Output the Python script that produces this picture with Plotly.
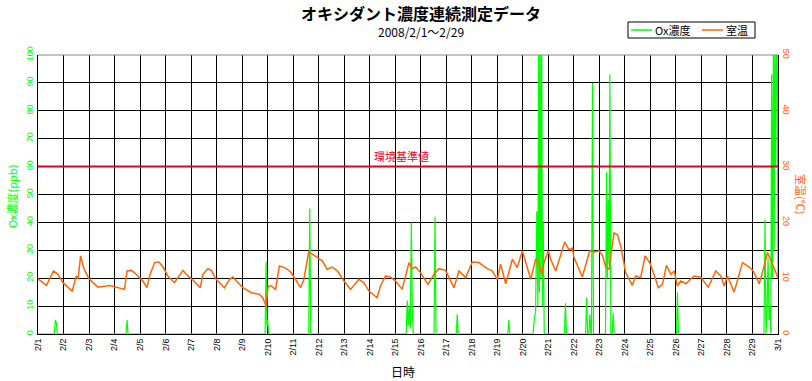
import plotly.graph_objects as go

# ---------------- data ----------------
day_labels = [f"2/{i}" for i in range(1, 30)] + ["3/1"]
day_ticks = list(range(0, 30))

# Ox concentration (ppb); x = days since 2/1 00:00
ox_day = [0.00,
          0.64, 0.68, 0.72, 0.76,
          3.45, 3.49, 3.53,
          8.90, 8.94, 8.97, 9.00, 9.04,
          10.61, 10.65, 10.69,
          14.43, 14.47, 14.51, 14.55, 14.59, 14.63, 14.67, 14.71,
          15.52, 15.56, 15.60,
          16.39, 16.43, 16.47,
          18.41, 18.45, 18.49,
          19.40, 19.46, 19.50, 19.55, 19.59, 19.62, 19.65, 19.68, 19.71, 19.74, 19.77, 19.80, 19.84,
          20.63, 20.67, 20.71,
          21.46, 21.50, 21.54, 21.59, 21.63, 21.67, 21.69, 21.73, 21.77,
          22.24, 22.28, 22.31, 22.35, 22.38, 22.41, 22.45, 22.50, 22.54, 22.58,
          25.02, 25.06, 25.10,
          28.45, 28.49, 28.53, 28.57, 28.61, 28.65, 28.68, 28.72, 28.75, 28.78, 28.82, 28.85, 28.88,
          28.91, 28.94, 28.97, 29.00]
ox_ppb = [0,
          0, 5, 4, 0,
          0, 5, 0,
          0, 26, 3, 5, 0,
          0, 45, 0,
          0, 12, 3, 10, 2, 40, 8, 0,
          0, 42, 0,
          0, 7, 0,
          0, 5, 0,
          0, 6, 8, 44, 10, 105, 15, 105, 20, 105, 10, 40, 0,
          0, 11, 0,
          0, 13, 0, 0, 7, 0, 0, 90, 0,
          0, 58, 20, 48, 25, 93, 0, 0, 7.5, 0,
          0, 15, 0,
          0, 41, 0, 8, 27, 5, 10, 0, 93, 20, 105, 30, 105,
          60, 105, 105, 20]

# Room temperature (deg C)
temp_day = [0.00, 0.33, 0.61, 0.78, 0.98, 1.34, 1.50, 1.57, 1.67, 1.80,
            2.00, 2.35, 2.81, 3.07, 3.39, 3.49, 3.66, 3.85, 4.11, 4.27,
            4.37, 4.57, 4.74, 4.90, 5.09, 5.35, 5.55, 5.68, 5.81, 6.04,
            6.36, 6.46, 6.66, 6.79, 6.98, 7.31, 7.51, 7.64, 7.77, 8.03,
            8.36, 8.68, 8.81, 8.94, 9.02, 9.14, 9.31, 9.46, 9.66, 9.86,
            9.96, 10.29, 10.42, 10.61, 10.75, 10.94, 11.14, 11.33, 11.53, 11.73,
            11.99, 12.25, 12.58, 12.77, 12.97, 13.29, 13.42, 13.62, 13.82, 14.01,
            14.27, 14.54, 14.67, 14.80, 14.99, 15.28, 15.52, 15.71, 15.97, 16.30,
            16.50, 16.76, 17.02, 17.28, 17.54, 17.80, 18.00, 18.13, 18.33, 18.59,
            18.78, 18.98, 19.11, 19.31, 19.50, 19.63, 19.74, 19.83, 20.00, 20.09,
            20.29, 20.48, 20.64, 20.81, 20.94, 21.00, 21.33, 21.62, 21.79, 21.99,
            22.12, 22.25, 22.38, 22.44, 22.58, 22.71, 22.84, 23.03, 23.29, 23.42,
            23.62, 23.79, 23.97, 24.14, 24.31, 24.47, 24.63, 24.80, 24.93, 25.06,
            25.19, 25.39, 25.71, 25.97, 26.27, 26.56, 26.76, 26.89, 27.02, 27.28,
            27.61, 27.87, 28.03, 28.26, 28.39, 28.59, 28.72, 28.85, 29.00]
temp_c = [9.9, 8.7, 11.3, 10.7, 9.2, 7.7, 10.4, 9.9, 14.0, 11.7,
          9.9, 8.4, 8.7, 8.4, 8.0, 11.3, 11.4, 10.7, 9.5, 8.3,
          10.4, 12.8, 12.9, 12.0, 10.4, 9.2, 10.4, 11.4, 10.7, 9.8,
          8.3, 10.7, 11.7, 11.4, 9.8, 8.3, 9.8, 10.2, 9.5, 8.3,
          7.4, 7.1, 6.5, 5.0, 8.6, 8.6, 8.0, 12.2, 11.9, 11.3,
          10.7, 8.3, 9.8, 14.7, 14.3, 13.7, 13.1, 11.6, 12.0, 11.3,
          9.5, 8.0, 9.8, 9.2, 7.7, 6.5, 8.6, 10.4, 10.2, 9.5,
          8.0, 12.8, 11.7, 12.0, 11.0, 8.9, 10.7, 11.7, 11.4, 8.3,
          11.3, 10.1, 12.9, 12.8, 11.9, 11.3, 9.8, 12.5, 9.0, 13.4,
          11.9, 14.9, 12.8, 9.8, 13.4, 12.8, 10.7, 12.8, 14.9, 13.4,
          11.3, 14.0, 16.5, 15.1, 15.4, 13.8, 10.2, 14.9, 14.7, 14.9,
          14.1, 12.0, 11.6, 14.0, 18.1, 17.8, 15.7, 11.0, 8.7, 10.4,
          10.1, 14.0, 12.8, 10.7, 8.3, 8.9, 12.3, 10.7, 11.3, 8.6,
          9.5, 9.0, 10.4, 10.2, 8.4, 11.3, 10.4, 8.6, 10.4, 7.5,
          12.8, 12.0, 11.3, 9.0, 11.0, 14.6, 13.1, 11.6, 10.1]

standard_ppb = 60
series_names = ["Ox濃度", "室温"]

GREEN = "#00FF00"
ORANGE = "#FF6600"
RED = "#E8001C"
FONT = "Liberation Sans, Noto Sans CJK JP"
JP = "Noto Sans CJK JP"

# plot-area geometry in page pixels (used to place outside-text)
L, R, T, B = 38, 778, 55, 334
def px(x):
    return (x - L) / (R - L)
def py(y):
    return (B - y) / (B - T)

fig = go.Figure()
fig.add_trace(go.Scatter(x=ox_day, y=ox_ppb, mode="lines", name=series_names[0],
                         line=dict(color=GREEN, width=1.2), yaxis="y"))
fig.add_trace(go.Scatter(x=temp_day, y=temp_c, mode="lines", name=series_names[1],
                         line=dict(color=ORANGE, width=1.5), yaxis="y2"))

fig.update_layout(
    width=812, height=381,
    margin=dict(l=L, r=812 - R, t=T, b=381 - B, autoexpand=False),
    paper_bgcolor="white", plot_bgcolor="white",
    font=dict(family=FONT, size=10, color="black"),
    title=dict(text="<b>オキシダント濃度連続測定データ</b>",
               x=421 / 812, xanchor="center", y=1 - 14 / 381, yanchor="middle",
               font=dict(family=JP, size=16, color="black")),
    xaxis=dict(range=[0, 29], tickmode="array", tickvals=day_ticks, ticktext=day_labels,
               tickangle=-90, tickfont=dict(size=9, color="black"),
               showgrid=True, gridcolor="black", gridwidth=1,
               showline=True, linecolor="black", linewidth=1, layer="below traces",
               zeroline=False, ticks="", automargin=False),
    yaxis=dict(range=[0, 100], dtick=10, tickangle=-90,
               tickfont=dict(size=9, color=GREEN),
               showgrid=True, gridcolor="black", gridwidth=1,
               showline=True, linecolor="black", linewidth=1, layer="below traces",
               zeroline=False, ticks="", automargin=False),
    yaxis2=dict(range=[0, 50], dtick=10, tickangle=90, overlaying="y", side="right",
                tickfont=dict(size=9, color=ORANGE),
                showgrid=False, showline=True, linecolor="black", linewidth=1,
                zeroline=False, ticks="", automargin=False),
    showlegend=False,
)

# limit line (environmental standard) and grey top frame
fig.add_shape(type="line", xref="paper", x0=0, x1=1, yref="y", y0=standard_ppb, y1=standard_ppb,
              line=dict(color=RED, width=2), layer="above")
fig.add_shape(type="line", xref="paper", x0=0, x1=1, yref="paper", y0=1, y1=1,
              line=dict(color="#888888", width=1), layer="above")

# legend box (drawn like the original's compact legend)
fig.add_shape(type="rect", xref="paper", yref="paper", x0=px(628), x1=px(755), y0=py(38), y1=py(22),
              line=dict(color="black", width=1), fillcolor="white", layer="above")
fig.add_shape(type="line", xref="paper", yref="paper", x0=px(631), x1=px(652), y0=py(30), y1=py(30),
              line=dict(color=GREEN, width=1.5), layer="above")
fig.add_shape(type="line", xref="paper", yref="paper", x0=px(702), x1=px(723), y0=py(30), y1=py(30),
              line=dict(color=ORANGE, width=1.5), layer="above")
fig.add_annotation(text=series_names[0], xref="paper", yref="paper", x=px(653), y=py(30),
                   xanchor="left", yanchor="middle", showarrow=False,
                   font=dict(family=JP, size=11, color="black"))
fig.add_annotation(text=series_names[1], xref="paper", yref="paper", x=px(724), y=py(30),
                   xanchor="left", yanchor="middle", showarrow=False,
                   font=dict(family=JP, size=11, color="black"))

fig.add_annotation(text="環境基準値", xref="paper", x=px(401), yref="y", y=standard_ppb,
                   yanchor="bottom", yshift=1, showarrow=False,
                   font=dict(family=JP, size=11, color=RED))
fig.add_annotation(text="2008/2/1～2/29", xref="paper", x=px(421),
                   yref="paper", y=py(31), yanchor="middle", showarrow=False,
                   font=dict(family=JP, size=12, color="black"))
fig.add_annotation(text="日時", xref="paper", x=px(403),
                   yref="paper", y=py(371), yanchor="middle", showarrow=False,
                   font=dict(family=JP, size=12, color="black"))
fig.add_annotation(text="Ox濃度(ppb)", xref="paper", x=px(12), xanchor="center",
                   yref="paper", y=py(197), yanchor="middle", textangle=-90,
                   showarrow=False, font=dict(family=JP, size=11, color=GREEN))
fig.add_annotation(text="室温(℃)", xref="paper", x=px(801), xanchor="center",
                   yref="paper", y=py(194), yanchor="middle", textangle=90,
                   showarrow=False, font=dict(family=JP, size=11, color=ORANGE))

fig.write_html("out.html", config={"displayModeBar": False},
               post_script="document.body.style.margin='0px';document.body.style.overflow='hidden';")
